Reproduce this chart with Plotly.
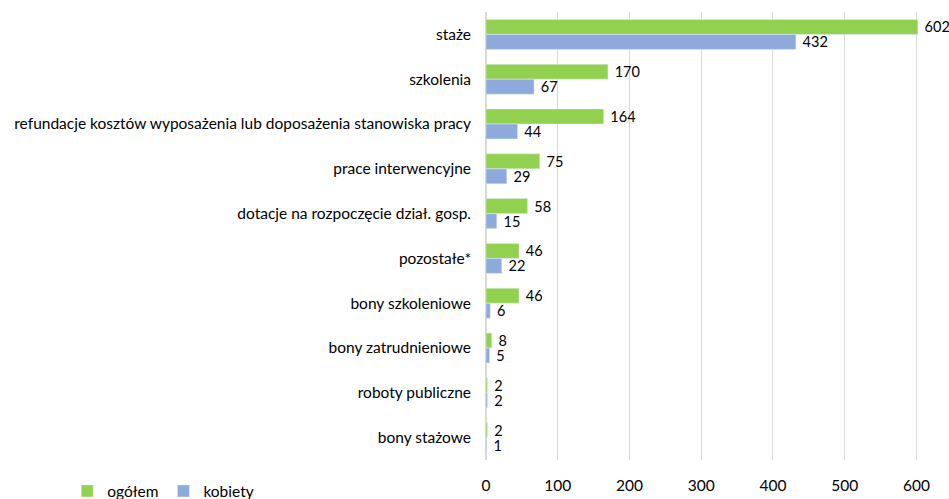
import plotly.graph_objects as go

categories = ["staże", "szkolenia",
              "refundacje kosztów wyposażenia lub doposażenia stanowiska pracy",
              "prace interwencyjne", "dotacje na rozpoczęcie dział. gosp.",
              "pozostałe*", "bony szkoleniowe", "bony zatrudnieniowe",
              "roboty publiczne", "bony stażowe"]
ogolem = [602, 170, 164, 75, 58, 46, 46, 8, 2, 2]
kobiety = [432, 67, 44, 29, 15, 22, 6, 5, 2, 1]

font = dict(family="Lato, Open Sans, sans-serif", size=15.5, color="#000000")
label_font = dict(family="Lato, Open Sans, sans-serif", size=14.5, color="#000000")

fig = go.Figure()
fig.add_trace(go.Bar(y=categories, x=ogolem, name="ogółem", orientation="h",
                     marker=dict(color="#92d050"), texttemplate=" %{x}",
                     textposition="outside", cliponaxis=False,
                     constraintext="none", textfont=label_font))
fig.add_trace(go.Bar(y=categories, x=kobiety, name="kobiety", orientation="h",
                     marker=dict(color="#8eaadc"), texttemplate=" %{x}",
                     textposition="outside", cliponaxis=False,
                     constraintext="none", textfont=label_font))

fig.update_layout(
    width=949, height=499,
    margin=dict(l=486, r=29, t=12, b=39, autoexpand=False),
    paper_bgcolor="white", plot_bgcolor="white",
    barmode="group", bargap=0.33, bargroupgap=0,
    font=font,
    showlegend=True,
    legend=dict(orientation="h", x=-0.965, y=-0.07, xanchor="left",
                yanchor="middle", font=font, itemwidth=30,
                traceorder="normal"),
)
fig.update_xaxes(range=[0, 605], tickvals=[0, 100, 200, 300, 400, 500, 600],
                 showgrid=True, gridcolor="#d9d9d9", gridwidth=1,
                 zeroline=True, zerolinecolor="#d9d9d9", showline=False,
                 ticks="", ticklabelstandoff=14, tickfont=font, automargin=False)
fig.update_yaxes(autorange="reversed", showgrid=False, ticks="",
                 ticklabelstandoff=14, tickfont=font, showline=False,
                 automargin=False)

fig.write_html("out.html", config={"displayModeBar": False},
               post_script="document.body.style.margin='0';document.body.style.overflow='hidden';")
